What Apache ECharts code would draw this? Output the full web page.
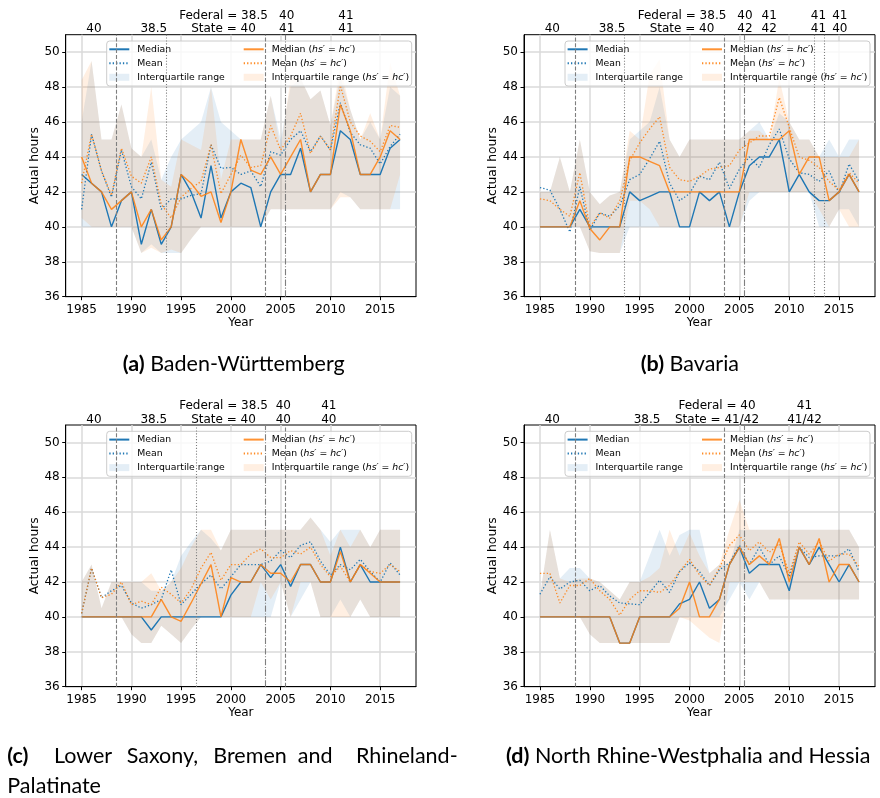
<!DOCTYPE html>
<html>
<head>
<meta charset="utf-8">
<script src="https://cdn.jsdelivr.net/npm/echarts@6/dist/echarts.min.js"></script>
<style>
html, body { margin: 0; padding: 0; background: #fff; }
#chart { width: 880px; height: 798px; }
</style>
</head>
<body>
<div id="chart"></div>
<script>
// Survey years shared by all four panels
const years = [1985, 1986, 1987, 1988, 1989, 1990, 1991, 1992, 1993, 1994, 1995, 1996, 1997, 1998, 1999,
  2000, 2001, 2002, 2003, 2004, 2005, 2006, 2007, 2008, 2009, 2010, 2011, 2012, 2013, 2014, 2015, 2016, 2017];
const xTicks = [1985, 1990, 1995, 2000, 2005, 2010, 2015];
const yTicks = [36, 38, 40, 42, 44, 46, 48, 50];

// (a) Baden-Württemberg
const aMedian  = [43, 42.5, 42, 40, 41.5, 42, 39, 41, 39, 40, 43, 42, 40.5, 43.5, 40.5, 42, 42.5, 42.25, 40, 42, 43, 43, 44.5, 42, 43, 43, 45.5, 45, 43, 43, 43, 44.5, 45];
const aMean    = [41, 45.3, 43.2, 41.7, 44.4, 42.3, 41.6, 43.7, 41, 41.6, 41.6, 41.8, 41.9, 44.7, 43.35, 43.4, 43, 43.2, 42.3, 44.3, 44.1, 45, 45.5, 44.3, 45.2, 44.4, 47.1, 45.4, 44.7, 44.5, 43.6, 44.6, 45.3];
const aQ1      = [40, 40, 40, 40, 40, 40, 38.5, 39, 38.5, 38.5, 38.5, 39.3, 40, 40, 40, 40, 40, 40, 40, 41, 41, 41, 41, 41, 41, 41, 42, 41.7, 41, 41, 41, 41, 41];
const aQ3      = [46, 49.5, 45, 45, 47, 44.5, 44, 45, 42.7, 44, 45, 45.5, 46, 48, 46, 45.5, 45, 45, 45, 47.5, 45, 48, 48.5, 47.3, 47.8, 45.8, 48.6, 46.7, 45, 46, 45, 48, 47.5];
const aMedianH = [44, 42.5, 42, 41, 41.5, 42, 40, 41, 39.25, 40, 43, 42.5, 41.75, 42, 40.25, 42, 45, 43.25, 43, 44, 43, 44, 45, 42, 43, 43, 47, 45.5, 43, 43, 44, 45.5, 45];
const aMeanH   = [42.5, 45.3, 43.2, 41.8, 44.5, 42.9, 42.5, 44, 41.3, 40.5, 41.7, 42.2, 42.6, 44.7, 41.9, 43, 44.1, 43.4, 43.5, 45.8, 44.4, 45.2, 46.5, 44.2, 45.2, 44.4, 48.1, 46, 45.2, 44.9, 44.3, 45.8, 45.7];
const aQ1H     = [40.5, 40, 40, 40, 40, 40, 38.5, 38.8, 38.5, 38.7, 38.5, 39.3, 40, 40, 40, 40, 40, 40, 40, 41, 41, 41, 41, 41, 41, 41, 41.7, 41.7, 41, 41, 41, 41, 43];
const aQ3H     = [48.4, 49.5, 45, 45, 47, 44.5, 44, 48, 42.7, 42.3, 45, 44.7, 44.4, 48, 42.7, 45, 45, 45, 45, 47.5, 44.5, 48.5, 48.5, 47.3, 47.8, 45.8, 49.2, 46.7, 45, 46.5, 45, 49.4, 47.5];
const aReforms = [[1988.5, 'dashed'], [1993.5, 'dotted'], [2003.5, 'dashed'], [2005.5, 'dashdot']];

// (b) Bavaria
const bMedian  = [40, 40, 40, 40, 41, 40, 40, 40, 40, 42, 41.5, 41.75, 42, 42, 40, 40, 42, 41.5, 42, 40, 42, 43.5, 44, 44, 45, 42, 43, 42, 41.5, 41.5, 42, 43, 42];
const bMean    = [42.25, 42.1, 41, 39.7, 42.3, 39.8, 40.8, 40.6, 41.2, 42.7, 43, 43.9, 44.9, 42.5, 41.5, 41.9, 42.9, 42.7, 43.7, 42.2, 43.3, 44, 43.4, 44.7, 45.6, 43.9, 43.1, 43, 42.6, 43.2, 41.9, 43.6, 42.6];
const bQ1      = [40, 40, 40, 40, 40, 38.6, 38.5, 38.5, 38.5, 40, 40, 40, 40, 40, 40, 40, 40, 40, 40, 40, 40, 41.5, 42, 42, 42, 42, 42, 42, 40, 40, 41, 41, 40];
const bQ3      = [42, 42, 44, 42, 45, 42, 41.3, 41.8, 42, 45, 45.5, 46, 48, 45, 44, 45, 45, 45, 45, 45, 45, 45.5, 46, 45, 46.5, 46, 45, 45, 44, 45, 44, 45, 45];
const bMedianH = [40, 40, 40, 40, 41.5, 39.9, 39.25, 40, 40, 44, 44, 43.75, 43.5, 42, 42, 42, 42, 42, 42, 42, 42, 45, 45, 45, 45, 45.5, 43, 44, 44, 41.5, 42, 43, 42];
const bMeanH   = [41.6, 41.5, 41, 40.6, 43.1, 40, 40.8, 40.5, 41.5, 43.8, 44.8, 45.6, 46.3, 43.4, 42.7, 42.6, 42.9, 43.3, 43.4, 43.5, 44.4, 44.8, 45.2, 45.2, 47.4, 45.7, 44, 43.8, 43.4, 42.6, 42.1, 43.1, 42.5];
const bQ1H     = [40, 40, 40, 40, 40, 38.6, 38.5, 38.5, 38.5, 41.5, 41.5, 41, 40, 40, 40, 40, 40, 40, 40, 40, 40, 42, 42, 42, 42, 42, 42, 42, 41, 40, 41, 40, 40];
const bQ3H     = [42, 42, 44, 42, 45, 42, 41.3, 41.8, 42, 45.5, 45, 48.7, 49.6, 45, 44, 45, 45, 45, 45, 45, 45, 45.5, 45.5, 45, 48.5, 46, 45, 45, 44, 44, 44, 44, 45];
const bReforms = [[1988.5, 'dashed'], [1993.5, 'dotted'], [2003.5, 'dashed'], [2005.5, 'dashdot'], [2012.5, 'dotted'], [2013.5, 'dotted']];

// (c) Lower Saxony, Bremen and Rhineland-Palatinate
const cMedian  = [40, 40, 40, 40, 40, 40, 40, 39.25, 40, 40, 40, 40, 40, 40, 40, 41.25, 42, 42, 43, 42.25, 43, 41.75, 43, 43, 42, 42, 44, 42, 43, 42, 42, 42, 42];
const cMean    = [40.2, 42.8, 41.1, 41.5, 41.8, 40.8, 40.5, 40.7, 41, 42.7, 40.7, 41.3, 41.9, 42.4, 41.6, 42.3, 43, 43, 43, 43.2, 43.8, 43.4, 44.1, 44.3, 43.2, 42.4, 43, 42.7, 43.3, 42.6, 42, 43.1, 42.4];
const cQ1      = [40, 40, 40, 40, 40, 39, 38.5, 38.5, 39.5, 39, 38.5, 39.3, 40, 40, 40, 40, 40, 40, 40, 40, 42, 40, 41, 42, 40, 40, 41, 40, 41, 40, 40, 40, 40];
const cQ3      = [42, 43, 40.5, 42, 42, 42, 42, 41.5, 41.5, 42, 43.5, 44.3, 45, 44.5, 43.8, 45, 45, 45, 45, 45, 45, 45, 45, 45.7, 45, 44.3, 45, 45, 45, 44, 45, 45, 45];
const cMedianH = [40, 40, 40, 40, 40, 40, 40, 40, 41, 40, 39.75, 40.8, 41.9, 43, 40, 42.25, 42, 42, 43, 42.5, 42.5, 42, 43, 43, 42, 42, 43.75, 42, 43, 42.5, 42, 42, 42];
const cMeanH   = [40.2, 42.8, 41.1, 41.3, 42, 40.7, 40.9, 40.7, 41.7, 41.3, 40.8, 41.6, 42.8, 43.7, 42.1, 43, 43, 43.6, 43.9, 43.4, 43.4, 43.8, 43.6, 44, 43, 42.3, 42.9, 42, 43, 42.6, 42.5, 43, 42.6];
const cQ1H     = [40, 40, 40, 40, 40, 39, 38.5, 38.5, 39.5, 39, 38.5, 39.3, 40, 40, 40, 40, 40, 40, 42, 41, 42, 40, 42, 42, 40, 40, 40, 40, 41, 40, 40, 40, 40];
const cQ3H     = [42, 43, 40.5, 42, 42, 42, 42, 42.5, 41.5, 42, 42.8, 44, 45, 45, 43.8, 45, 45, 45, 45, 45, 45, 45, 45, 45.7, 45, 43.5, 45, 44, 45, 44, 45, 45, 45];
const cReforms = [[1988.5, 'dashed'], [1996.5, 'dotted'], [2003.5, 'dashdot'], [2005.5, 'dashed']];

// (d) North Rhine-Westphalia and Hessia
const dMedian  = [40, 40, 40, 40, 40, 40, 40, 40, 38.5, 38.5, 40, 40, 40, 40, 40.75, 41, 42, 40.5, 41, 43, 44, 42.5, 43, 43, 43, 41.5, 44, 43, 44, 43, 42, 43, 42];
const dMean    = [41.3, 42.3, 41.6, 42, 42.1, 41.5, 41.8, 41.2, 40.8, 40.75, 40.7, 41.4, 42.1, 41.4, 42.6, 43.1, 42.6, 41.8, 42.7, 43.1, 44.1, 43, 44, 43, 43.5, 42.3, 44, 43.4, 43.5, 43.5, 43.5, 43.9, 42.6];
const dQ1      = [40, 40, 40, 40, 40, 39, 38.5, 38.5, 38.5, 38.5, 38.5, 38.5, 38.5, 38.5, 40, 40, 40, 40, 40, 41, 42, 41, 42, 41, 41, 41, 41, 41, 41, 41, 41, 41, 41];
const dQ3      = [41.2, 45, 42.2, 42.8, 42.8, 42.2, 42, 41.5, 41, 42, 42, 43.5, 45, 43.5, 44.7, 45, 45, 42.5, 43, 43, 45, 45, 45, 45, 45, 45, 45, 45, 45, 45, 45, 45, 44];
const dMedianH = [40, 40, 40, 40, 40, 40, 40, 40, 38.5, 38.5, 40, 40, 40, 40, 40.5, 42, 40, 40, 41, 43, 44, 43, 43.5, 43, 44.5, 42, 44, 43, 44.5, 42, 43, 43, 42];
const dMeanH   = [42.5, 42.5, 40.8, 41.8, 41.8, 42.2, 41.5, 41, 40.1, 41, 41.5, 41.5, 41.4, 41.8, 42.6, 43.3, 42.4, 41.8, 42.8, 44.1, 44.7, 43.8, 44.3, 43.7, 44.2, 42.5, 44.3, 43.6, 44.3, 43.2, 43.6, 43.6, 42.9];
const dQ1H     = [40, 40, 40, 40, 40, 39, 38.5, 38.5, 38.5, 38.5, 38.5, 38.5, 38.5, 38.5, 40, 39.8, 39.3, 38.8, 38.5, 42, 42, 42, 42, 41, 41, 41, 41, 41, 41, 41, 41, 41, 41];
const dQ3H     = [41.2, 45, 42.2, 42, 42.2, 42.2, 42, 41.5, 41, 42, 42, 42.3, 42.8, 45, 43.5, 44.8, 43.5, 42.5, 43, 45, 46.7, 45, 45, 45, 45, 45, 45, 45, 45, 45, 45, 45, 44];
const dReforms = [[1988.5, 'dashed'], [2003.5, 'dashed'], [2005.5, 'dashdot']];

// Collective-agreement hours printed above each panel: [upper line, lower line]
const aNotes = [['', '40'], ['', '38.5'], ['Federal = 38.5', 'State = 40'], ['40', '41'], ['41', '41']];
const bNotes = [['', '40'], ['', '38.5'], ['Federal = 38.5', 'State = 40'], ['40', '42'], ['41', '42'], ['41', '41'], ['41', '40']];
const cNotes = [['', '40'], ['', '38.5'], ['Federal = 38.5', 'State = 40'], ['40', '40'], ['41', '40']];
const dNotes = [['', '40'], ['', '38.5'], ['Federal = 40', 'State = 41/42'], ['41', '41/42']];

// ---------------------------------------------------------------- styling
const FONT = 'DejaVu Sans';
const CAP_FONT = 'Lato';
const CAP_SIZE = 21.5;
const BLUE = '#1f77b4', ORANGE = '#ff7f0e';
const BLUE_FILL = 'rgba(31,119,180,0.12)', ORANGE_FILL = 'rgba(255,127,14,0.12)';
const REF_GREY = '#7f7f7f';
const DASHES = { dashed: [4, 1.8], dotted: [1.1, 1.8], dashdot: [6.4, 1.6, 1.1, 1.6] };
const NAMES = {
  median: 'Median', mean: 'Mean', iqr: 'Interquartile range',
  medianH: 'Median (hs′ = hc′)', meanH: 'Mean (hs′ = hc′)', iqrH: 'Interquartile range (hs′ = hc′)'
};

const panels = [
  { rect: { left: 65.7, top: 34.7, width: 350.3, height: 262 },
    median: aMedian, mean: aMean, q1: aQ1, q3: aQ3, medianH: aMedianH, meanH: aMeanH, q1H: aQ1H, q3H: aQ3H,
    reforms: aReforms, notes: aNotes, noteX: [94, 153.8, 223.5, 286.7, 346] },
  { rect: { left: 524, top: 34.7, width: 351, height: 262 },
    median: bMedian, mean: bMean, q1: bQ1, q3: bQ3, medianH: bMedianH, meanH: bMeanH, q1H: bQ1H, q3H: bQ3H,
    reforms: bReforms, notes: bNotes, noteX: [552.3, 612, 682, 745, 769.2, 818.5, 839.8] },
  { rect: { left: 65.7, top: 425, width: 350.3, height: 261.7 },
    median: cMedian, mean: cMean, q1: cQ1, q3: cQ3, medianH: cMedianH, meanH: cMeanH, q1H: cQ1H, q3H: cQ3H,
    reforms: cReforms, notes: cNotes, noteX: [94, 153.8, 223.5, 283.3, 328.8] },
  { rect: { left: 524, top: 425, width: 351, height: 261.7 },
    median: dMedian, mean: dMean, q1: dQ1, q3: dQ3, medianH: dMedianH, meanH: dMeanH, q1H: dQ1H, q3H: dQ3H,
    reforms: dReforms, notes: dNotes, noteX: [552.3, 647, 717, 804.5] }
];

const pairs = vals => years.map((y, i) => [y, vals[i]]);

function bandSeries(name, idx, lo, hi, fill) {
  return {
    type: 'custom', name, xAxisIndex: idx, yAxisIndex: idx, z: 1, silent: true, clip: true,
    itemStyle: { color: fill },
    data: years.map((y, i) => [y, lo[i], hi[i]]),
    renderItem(params, api) {
      if (params.dataIndex !== 0) return null;
      const upper = [], lower = [];
      for (let i = 0; i < years.length; i++) {
        upper.push(api.coord([years[i], hi[i]]));
        lower.unshift(api.coord([years[i], lo[i]]));
      }
      return { type: 'polygon', shape: { points: upper.concat(lower) }, style: { fill } };
    }
  };
}

function lineSeries(name, idx, vals, color, dotted, opacity) {
  return {
    type: 'line', name, xAxisIndex: idx, yAxisIndex: idx, z: 2, silent: true,
    symbol: 'none', data: pairs(vals),
    lineStyle: { color, width: dotted ? 1.3 : 1.4, type: dotted ? [1.3, 2.1] : 'solid', opacity },
    itemStyle: { color, opacity }
  };
}

function legendLabel(name) {
  const k = name.indexOf(' (hs′');
  if (k < 0) return '{n|' + name + '}';
  return '{n|' + name.slice(0, k) + ' (}{i|hs′}{n| = }{i|hc′}{n|)}';
}

const grids = [], xAxes = [], yAxes = [], series = [], legends = [], graphics = [];
const tickFont = { color: '#000', fontFamily: FONT, fontSize: 12 };

panels.forEach((p, idx) => {
  const r = p.rect;
  grids.push({ left: r.left, top: r.top, width: r.width, height: r.height,
    show: true, borderColor: '#000', borderWidth: 1, backgroundColor: 'transparent' });

  xAxes.push({
    type: 'value', gridIndex: idx, min: 1983.4, max: 2018.6, splitNumber: 7,
    axisLine: { show: true, onZero: false, lineStyle: { color: '#000', width: 1 } },
    axisTick: { show: true, length: 3.5, customValues: xTicks, lineStyle: { color: '#000', width: 1 } },
    axisLabel: Object.assign({ customValues: xTicks, margin: 7.5, formatter: v => String(v) }, tickFont),
    splitLine: { show: true, lineStyle: { color: '#dadada', width: 1.5 } },
    name: 'Year', nameLocation: 'middle', nameGap: 20,
    nameTextStyle: { color: '#000', fontFamily: FONT, fontSize: 12 }
  });
  yAxes.push({
    type: 'value', gridIndex: idx, min: 36, max: 51, interval: 2,
    axisLine: { show: true, onZero: false, lineStyle: { color: '#000', width: 1 } },
    axisTick: { show: true, length: 3.5, customValues: yTicks, lineStyle: { color: '#000', width: 1 } },
    axisLabel: Object.assign({ customValues: yTicks, margin: 6, formatter: v => String(v) }, tickFont),
    splitLine: { show: true, lineStyle: { color: '#dadada', width: 1.5 } },
    name: 'Actual hours', nameLocation: 'middle', nameGap: 25, nameRotate: 90,
    nameTextStyle: { color: '#000', fontFamily: FONT, fontSize: 12.3 }
  });

  series.push(bandSeries(NAMES.iqr, idx, p.q1, p.q3, BLUE_FILL));
  series.push(bandSeries(NAMES.iqrH, idx, p.q1H, p.q3H, ORANGE_FILL));

  const med = lineSeries(NAMES.median, idx, p.median, BLUE, false, 1);
  med.markLine = {
    silent: true, symbol: ['none', 'none'], label: { show: false }, animation: false,
    emphasis: { disabled: true },
    data: p.reforms.map(([x, kind]) => ({ xAxis: x, lineStyle: { color: REF_GREY, width: 1.1, type: DASHES[kind] } }))
  };
  series.push(med);
  series.push(lineSeries(NAMES.mean, idx, p.mean, BLUE, true, 1));
  series.push(lineSeries(NAMES.medianH, idx, p.medianH, ORANGE, false, 0.85));
  series.push(lineSeries(NAMES.meanH, idx, p.meanH, ORANGE, true, 0.9));

  // legend: two columns inside one framed box; line entries show only the line
  const legendText = {
    color: '#000', fontFamily: FONT, fontSize: 9.3, lineHeight: 10, padding: [0, 0, 0, 3],
    rich: {
      n: { fontFamily: FONT, fontSize: 9.3, color: '#000' },
      i: { fontFamily: FONT, fontSize: 9.3, fontStyle: 'italic', color: '#000' }
    }
  };
  const lineEntry = name => ({ name, itemStyle: { opacity: 0 } });
  const baseLegend = {
    top: r.top + 9.6, orient: 'vertical', itemWidth: 20, itemHeight: 7, itemGap: 4,
    padding: 0, z: 5, selectedMode: false, formatter: legendLabel, textStyle: legendText
  };
  legends.push(Object.assign({}, baseLegend, { left: r.left + 42.6,
    data: [lineEntry(NAMES.median), lineEntry(NAMES.mean), { name: NAMES.iqr, icon: 'rect' }] }));
  legends.push(Object.assign({}, baseLegend, { left: r.left + 177,
    data: [lineEntry(NAMES.medianH), lineEntry(NAMES.meanH), { name: NAMES.iqrH, icon: 'rect' }] }));
  graphics.push({
    type: 'rect', x: r.left + 41, y: r.top + 6.3, z: 3, zlevel: 0, silent: true,
    shape: { x: 0, y: 0, width: 305, height: 45, r: 3 },
    style: { fill: 'rgba(255,255,255,0.8)', stroke: '#cccccc', lineWidth: 1 }
  });

  // hour annotations above the frame
  p.notes.forEach(([up, low], k) => {
    [[up, r.top - 18.7], [low, r.top - 5.5]].forEach(([txt, y]) => {
      if (!txt) return;
      graphics.push({
        type: 'text', x: p.noteX[k], y, z: 10, silent: true,
        style: { text: txt, fill: '#000', fontFamily: FONT, fontSize: 12,
          align: 'center', verticalAlign: 'middle', textAlign: 'center', textVerticalAlign: 'middle' }
      });
    });
  });
});

// sub-figure captions
function caption(x, y, text) {
  graphics.push({
    type: 'text', x, y, z: 10, silent: true,
    style: { text, fill: '#000', fontFamily: CAP_FONT, fontSize: CAP_SIZE,
      rich: { b: { fontFamily: CAP_FONT, fontSize: CAP_SIZE, fontWeight: 'bold', fill: '#000' } },
      align: 'left', verticalAlign: 'middle', textAlign: 'left', textVerticalAlign: 'middle' }
  });
}
caption(122.7, 364, '{b|(a)} Baden-Württemberg');
caption(640.7, 364, '{b|(b)} Bavaria');
[['{b|(c)}', 7.3], ['Lower', 54], ['Saxony,', 126.7], ['Bremen', 213.3], ['and', 297.7], ['Rhineland-', 356]]
  .forEach(([w, x]) => caption(x, 756, w));
caption(7.3, 786, 'Palatinate');
caption(506, 756, '{b|(d)} North Rhine-Westphalia and Hessia');

const chart = echarts.init(document.getElementById('chart'), null, { renderer: 'canvas' });
chart.setOption({
  animation: false,
  backgroundColor: '#fff',
  grid: grids,
  xAxis: xAxes,
  yAxis: yAxes,
  legend: legends,
  series,
  graphic: { elements: graphics }
});
</script>
</body>
</html>
